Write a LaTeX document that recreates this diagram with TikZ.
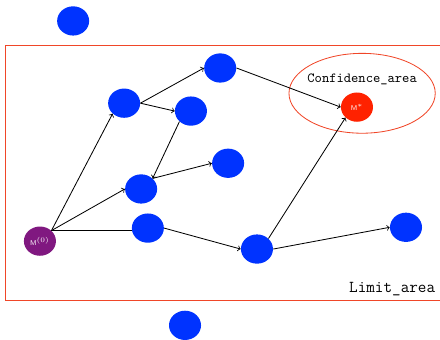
\documentclass[tikz,border=0pt]{standalone}
\usetikzlibrary{shapes.geometric}
\definecolor{nodeblue}{RGB}{0,51,255}
\definecolor{startpurple}{RGB}{128,24,128}
\definecolor{bestred}{RGB}{255,34,0}
\definecolor{areared}{RGB}{240,70,40}
\tikzset{
  state/.style={ellipse,fill=nodeblue,minimum width=0.81cm,minimum height=0.74cm,inner sep=0pt},
  start/.style={state,fill=startpurple,text=white,font=\sffamily\tiny},
  best/.style={state,fill=bestred,text=white,font=\sffamily\tiny},
  link/.style={->,line width=0.6pt}
}
\begin{document}
\begin{tikzpicture}
    \useasboundingbox (0,0) rectangle (11.13,8.58);
    %% limit area
    \draw[areared,line width=0.7pt] (0.15,7.44) rectangle (11.40,0.99);
    \node[font=\ttfamily\large] (L) at (9.92,1.27) {Limit\_area};
    %% confidence area
    \draw[areared,line width=0.6pt] (9.16,6.22) ellipse (1.85cm and 1.01cm);
    \node[font=\ttfamily] (Cf) at (9.16,6.58) {Confidence\_area};
    %% outside
    \node[state] (T) at (1.85,8.05) {};
    \node[state] (U) at (4.68,0.35) {};
    %% inside
    \node[start] (M0) at (1.01,2.48) {M$^{(0)}$};
    \node[state] (A) at (3.14,5.97) {};
    \node[state] (B) at (5.57,6.86) {};
    \node[state] (C) at (4.83,5.77) {};
    \node[state] (D) at (5.77,4.45) {};
    \node[state] (E) at (3.57,3.80) {};
    \node[state] (F) at (3.74,2.81) {};
    \node[state] (G) at (6.50,2.28) {};
    \node[state] (H) at (10.27,2.83) {};
    \node[best] (Ms) at (9.03,5.87) {M$^{*}$};
    %% moves
    \draw[link] (M0.north east) -- (A.south west);
    \draw[link] (M0.north east) -- (E.west);
    \draw[line width=0.6pt] (M0.north east) -- (M0.north east -| F.west);
    \draw[link] (A.east) -- (B.west);
    \draw[link] (A.east) -- (C.west);
    \draw[link] (C.south west) -- (E.north east);
    \draw[link] (E.north east) -- (D.west);
    \draw[link] (B.east) -- (Ms.west);
    \draw[link] (F.east) -- (G.west);
    \draw[link] (G.north east) -- (Ms.south west);
    \draw[link] (G.east) -- (H.west);
\end{tikzpicture}
\end{document}
